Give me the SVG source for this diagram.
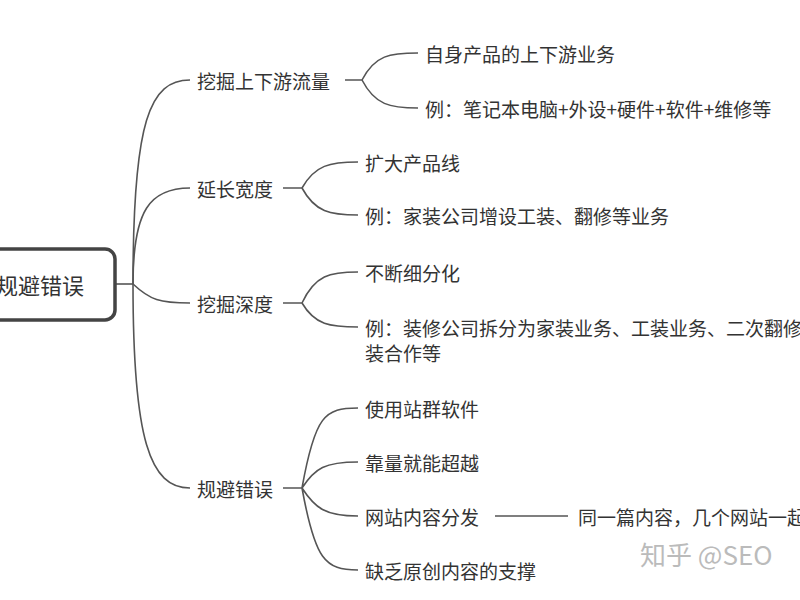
<svg xmlns="http://www.w3.org/2000/svg" width="800" height="600" viewBox="0 0 800 600">
<style>
text{font-family:"Noto Sans CJK SC","Liberation Sans",sans-serif;font-size:19px;fill:#333;dominant-baseline:central}
.c{fill:none;stroke:#555;stroke-width:1.6}
</style>
<rect width="800" height="600" fill="#fff"/>
<g id="connectors" class="c">
<path d="M115 284H133"/>
<path d="M133 284C133 120 150 80 190 80"/>
<path d="M133 284C133 210 150 188 190 188"/>
<path d="M133 284C150 300 160 303 190 303"/>
<path d="M133 284C133 440 150 488 190 488"/>
<path d="M345 80H362C375 55 390 53 418 53M362 80C375 105 390 108 418 108"/>
<path d="M283 188H302C315 165 330 162 358 162M302 188C315 212 330 215 358 215"/>
<path d="M283 303H302C315 275 330 272 358 272M302 303C315 325 330 327 358 327"/>
<path d="M283 488H302C315 415 325 408 358 408M302 488C315 468 325 462 358 462M302 488C315 508 325 516 358 516M302 488C315 560 325 570 358 570"/>
<path d="M495 516H568"/>
</g>
<g id="root"><rect x="-30" y="249" width="145" height="71" rx="10" fill="#fff" stroke="#444" stroke-width="3.5"/><text x="-4" y="284" style="font-size:22px">规避错误</text></g>
<g id="b1"><text x="197" y="80">挖掘上下游流量</text></g>
<g id="b1a"><text x="425" y="53">自身产品的上下游业务</text></g>
<g id="b1b"><text x="425" y="108">例：笔记本电脑+外设+硬件+软件+维修等</text></g>
<g id="b2"><text x="197" y="188">延长宽度</text></g>
<g id="b2a"><text x="365" y="162">扩大产品线</text></g>
<g id="b2b"><text x="365" y="215">例：家装公司增设工装、翻修等业务</text></g>
<g id="b3"><text x="197" y="303">挖掘深度</text></g>
<g id="b3a"><text x="365" y="272">不断细分化</text></g>
<g id="b3b"><text x="365" y="327">例：装修公司拆分为家装业务、工装业务、二次翻修</text><text x="365" y="352">装合作等</text></g>
<g id="b4"><text x="197" y="488">规避错误</text></g>
<g id="b4a"><text x="365" y="408">使用站群软件</text></g>
<g id="b4b"><text x="365" y="462">靠量就能超越</text></g>
<g id="b4c"><text x="365" y="516">网站内容分发</text></g>
<g id="b4d"><text x="365" y="570">缺乏原创内容的支撑</text></g>
<g id="b4c1"><text x="578" y="516">同一篇内容，几个网站一起</text></g>
<text x="640" y="553" style="font-size:26px;fill:#bbb">知乎 @SEO</text>
</svg>
